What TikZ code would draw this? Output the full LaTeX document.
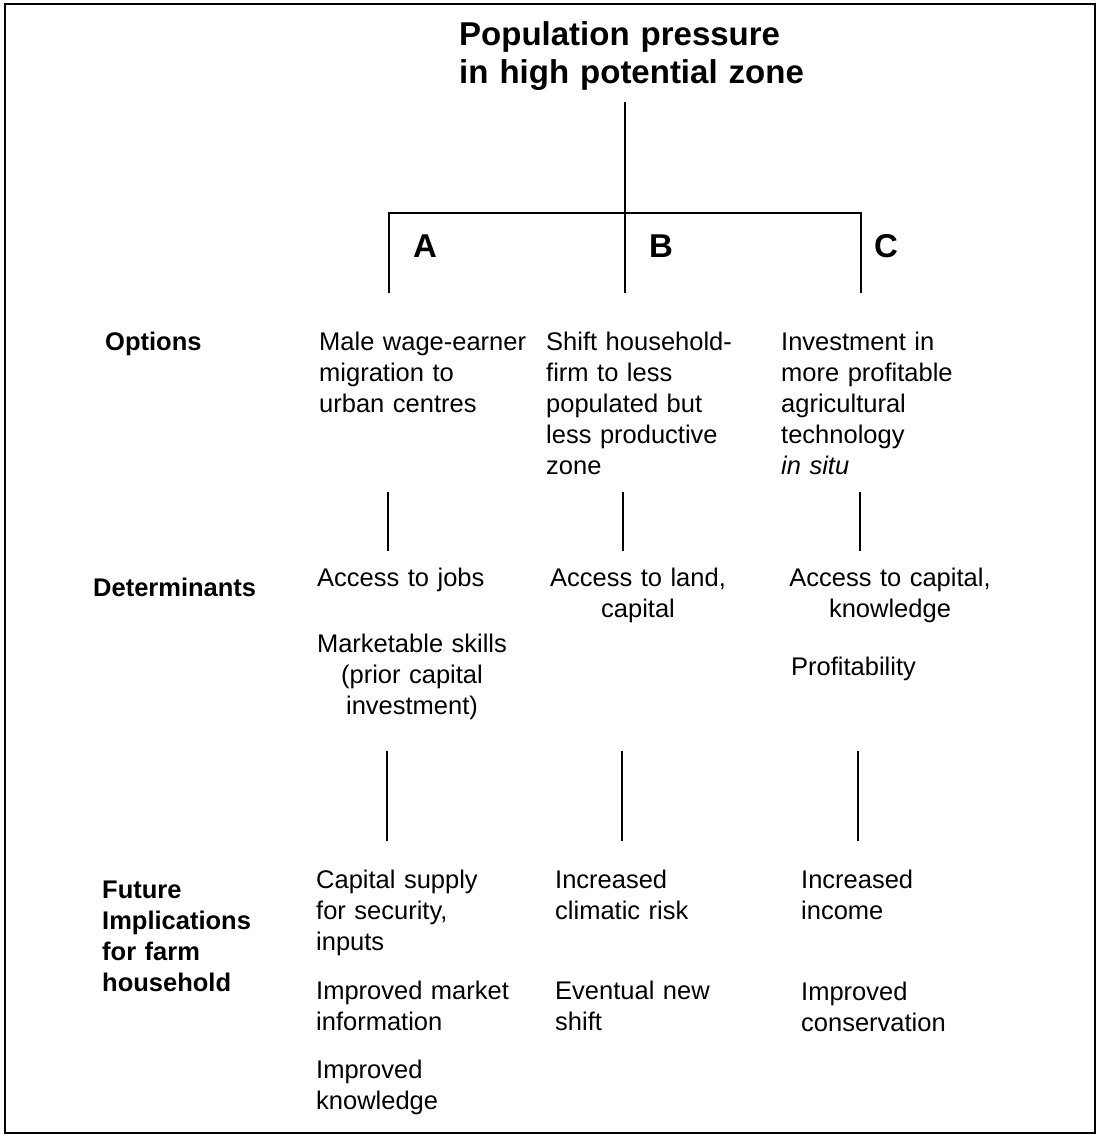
\documentclass[tikz,border=0pt]{standalone}
\usepackage{fontspec}
\setmainfont{Liberation Sans}
\begin{document}
\begin{tikzpicture}[x=1pt,y=-1pt,
  body/.style={inner sep=0pt, anchor=base west, align=left,
    font=\fontsize{25.5}{31}\selectfont, text width=230pt},
  ctrbody/.style={inner sep=0pt, anchor=base, align=center,
    font=\fontsize{25.5}{31}\selectfont, text width=230pt},
  rowlabel/.style={inner sep=0pt, anchor=base west, align=left,
    font=\fontsize{25.5}{31}\selectfont\bfseries, text width=200pt},
  heading/.style={inner sep=0pt, anchor=base west, align=left,
    font=\fontsize{33}{38}\selectfont\bfseries, text width=400pt},
  letter/.style={inner sep=0pt, anchor=base west,
    font=\fontsize{33}{38}\selectfont\bfseries},
  link/.style={line width=1.6pt}]

\useasboundingbox (0,0) rectangle (1101,1136);
\draw[line width=2.2pt] (5,4) rectangle (1095,1133);

% heading
\node[heading] (title) at (459,45) {Population pressure\\in high potential zone};

% branching tree
\coordinate (stemtop) at (625,102);
\coordinate (la) at (389,213);
\coordinate (ra) at (861,213);
\coordinate (ea) at (389,293);
\coordinate (eb) at (625,293);
\coordinate (ec) at (861,293);
\draw[link] (stemtop) -- (eb);
\draw[link] (ea) -- (la) -- (ra) -- (ec);

\node[letter] (lA) at (413,257) {A};
\node[letter] (lB) at (649,257) {B};
\node[letter] (lC) at (874,257) {C};

% row labels
\node[rowlabel] (options) at (105,350) {Options};
\node[rowlabel] (determ) at (93,596) {Determinants};
\node[rowlabel] (future) at (102,898) {Future\\Implications\\for farm\\household};

% options
\node[body] (optA) at (319,350) {Male wage-earner\\migration to\\urban centres};
\node[body] (optB) at (546,350) {Shift household-\\firm to less\\populated but\\less productive\\zone};
\node[body] (optC) at (781,350) {Investment in\\more profitable\\agricultural\\technology\\\textit{in situ}};

% connectors options -> determinants
\coordinate (a1) at (388,492); \coordinate (a2) at (388,551);
\coordinate (b1) at (623,492); \coordinate (b2) at (623,551);
\coordinate (c1) at (860,492); \coordinate (c2) at (860,551);
\draw[link] (a1) -- (a2);
\draw[link] (b1) -- (b2);
\draw[link] (c1) -- (c2);

% determinants
\node[body] (detA1) at (317,586) {Access to jobs};
\node[ctrbody] (detA2) at (412,652) {Marketable skills\\(prior capital\\investment)};
\node[ctrbody] (detB) at (638,586) {Access to land,\\capital};
\node[ctrbody] (detC1) at (890,586) {Access to capital,\\knowledge};
\node[body] (detC2) at (791,675) {Profitability};

% connectors determinants -> implications
\coordinate (a3) at (387,751); \coordinate (a4) at (387,841);
\coordinate (b3) at (622,751); \coordinate (b4) at (622,841);
\coordinate (c3) at (858,751); \coordinate (c4) at (858,841);
\draw[link] (a3) -- (a4);
\draw[link] (b3) -- (b4);
\draw[link] (c3) -- (c4);

% future implications
\node[body] (impA1) at (316,888) {Capital supply\\for security,\\inputs};
\node[body] (impA2) at (316,999) {Improved market\\information};
\node[body] (impA3) at (316,1078) {Improved\\knowledge};
\node[body] (impB1) at (555,888) {Increased\\climatic risk};
\node[body] (impB2) at (555,999) {Eventual new\\shift};
\node[body] (impC1) at (801,888) {Increased\\income};
\node[body] (impC2) at (801,1000) {Improved\\conservation};
\end{tikzpicture}
\end{document}
